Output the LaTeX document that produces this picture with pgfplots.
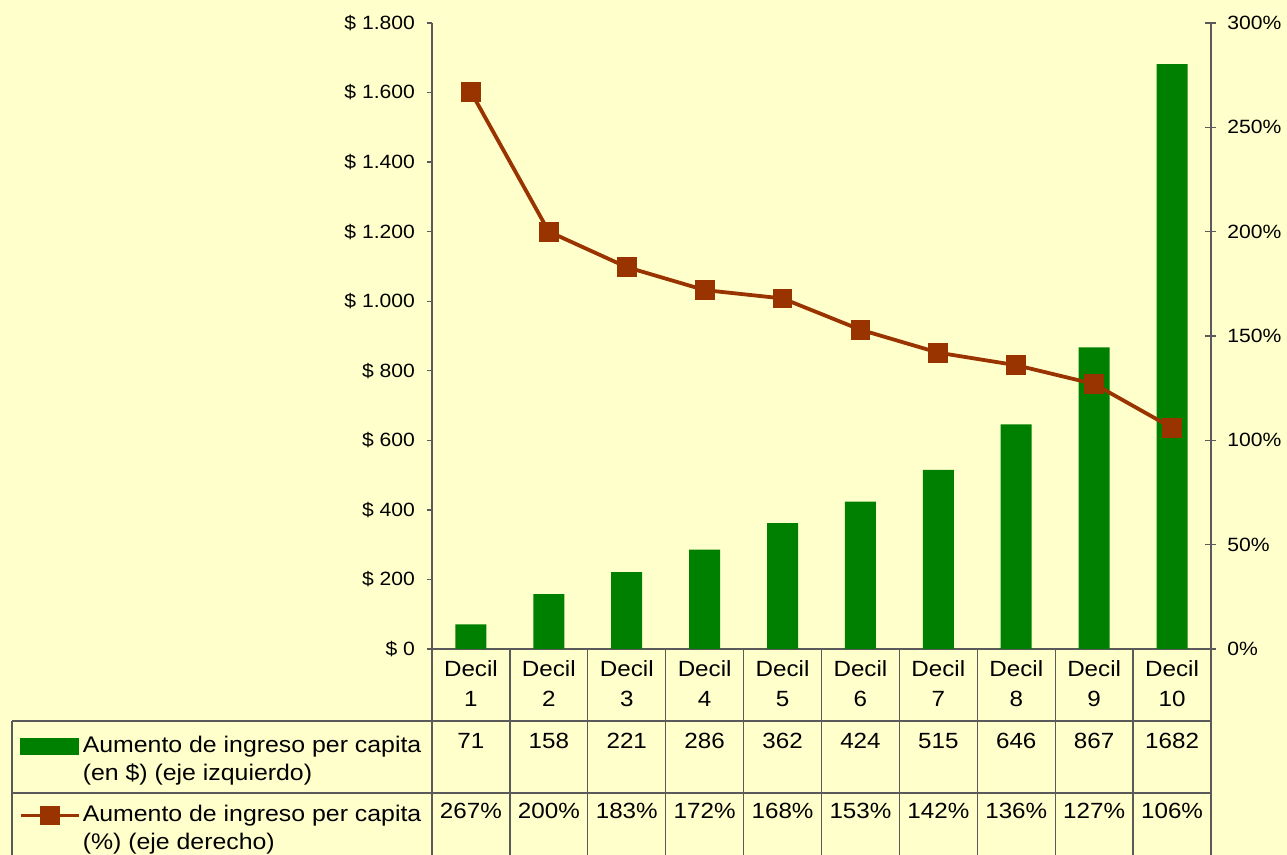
\documentclass[border=0pt]{standalone}
\usepackage{fontspec}
\setmainfont{Liberation Sans}[FakeStretch=1.1]
\usepackage{pgfplots}
\pgfplotsset{compat=1.18}

\definecolor{fondo}{HTML}{FFFFCC}
\definecolor{verde}{HTML}{008000}
\definecolor{ladrillo}{HTML}{993300}
\definecolor{linea}{HTML}{5A5A5A}

\newcommand\tickfont{\fontsize{9.6}{11}\selectfont}
\newcommand\tabfont{\fontsize{11}{15}\selectfont}
\newcommand\legfont{\fontsize{11.3}{14}\selectfont}
% second line of a legend text, hung below the first without taking room
\newcommand\dos[2]{\makebox[0pt][l]{\raisebox{-14pt}[0pt][0pt]{#2}}#1}

\begin{document}
\begin{tikzpicture}
\useasboundingbox (-216pt,-103pt) rectangle (427.5pt,324.5pt);
\fill[fondo] (-216pt,-103pt) rectangle (427.5pt,324.5pt);

% bars, left axis
\begin{axis}[
  scale only axis, width=389.5pt, height=313pt,
  at={(0pt,0pt)}, anchor=south west,
  xmin=0.5, xmax=10.5, ymin=0, ymax=1800,
  axis x line*=bottom, axis y line*=left,
  axis line style={linea, line width=0.7pt},
  tick style={linea, line width=0.7pt},
  tick align=outside, major tick length=2.5pt,
  xtick={1,...,10},
  xticklabels={{Decil\\1},{Decil\\2},{Decil\\3},{Decil\\4},{Decil\\5},
               {Decil\\6},{Decil\\7},{Decil\\8},{Decil\\9},{Decil\\10}},
  xtick style={draw=none},
  xticklabel style={font=\tabfont, align=center, inner sep=0pt, yshift=-3pt},
  ytick={0,200,...,1800},
  yticklabels={\$ 0,\$ 200,\$ 400,\$ 600,\$ 800,\$ 1.000,\$ 1.200,\$ 1.400,\$ 1.600,\$ 1.800},
  yticklabel style={font=\tickfont, xshift=-2.5pt},
  ybar, bar width=15.5pt,
]
\addplot[fill=verde, draw=none] coordinates {
  (1,71) (2,158) (3,221) (4,286) (5,362)
  (6,424) (7,515) (8,646) (9,867) (10,1682)};
\end{axis}

% line, right axis (carries the legend)
\begin{axis}[
  scale only axis, width=389.5pt, height=313pt,
  at={(0pt,0pt)}, anchor=south west,
  xmin=0.5, xmax=10.5, ymin=0, ymax=300,
  axis x line=none, axis y line*=right,
  axis line style={linea, line width=0.7pt},
  tick style={linea, line width=0.7pt},
  tick align=center, major tick length=5.5pt,
  ytick={0,50,...,300},
  yticklabels={0\%,50\%,100\%,150\%,200\%,250\%,300\%},
  yticklabel style={font=\tickfont, xshift=1.9pt},
  legend cell align=left,
  legend style={at={(axis description cs:-0.5302,-0.139)}, anchor=north west,
    draw=none, fill=none, inner sep=0pt, outer sep=0pt,
    font=\legfont, row sep=24.1pt, column sep=1pt,
    nodes={inner sep=0pt, text height=8pt, text depth=2.4pt}},
]
\addlegendimage{legend image code/.code={\fill[verde] (0pt,-4pt) rectangle (29pt,4pt);}}
\addlegendentry{\dos{Aumento de ingreso per capita}{(en \$) (eje izquierdo)}}
\addplot[ladrillo, line width=1.9pt, mark=square*, mark size=4pt,
  legend image code/.code={\draw[ladrillo, line width=1.9pt, mark=square*, mark size=4pt,
    mark repeat=2, mark phase=2]
    plot coordinates {(0pt,0pt) (14.5pt,0pt) (29pt,0pt)};}]
  coordinates {
  (1,267) (2,200) (3,183) (4,172) (5,168)
  (6,153) (7,142) (8,136) (9,127) (10,106)};
\addlegendentry{\dos{Aumento de ingreso per capita}{(\%) (eje derecho)}}
\end{axis}

% data table below the plot
\begin{scope}[linea, line width=0.7pt]
  \foreach \k in {0,...,10} \draw ({\k*38.95pt},0pt) -- ({\k*38.95pt},-103pt);
  \draw (-210pt,-36pt) -- (389.5pt,-36pt);
  \draw (-210pt,-72pt) -- (389.5pt,-72pt);
  \draw (-210pt,-36pt) -- (-210pt,-103pt);
\end{scope}
\foreach \v [count=\i] in {71,158,221,286,362,424,515,646,867,1682}
  \node[anchor=base, font=\tabfont, inner sep=0pt] at ({(\i-0.5)*38.95pt},-50pt) {\v};
\foreach \v [count=\i] in {267,200,183,172,168,153,142,136,127,106}
  \node[anchor=base, font=\tabfont, inner sep=0pt] at ({(\i-0.5)*38.95pt},-85pt) {\v\%};
\end{tikzpicture}
\end{document}
